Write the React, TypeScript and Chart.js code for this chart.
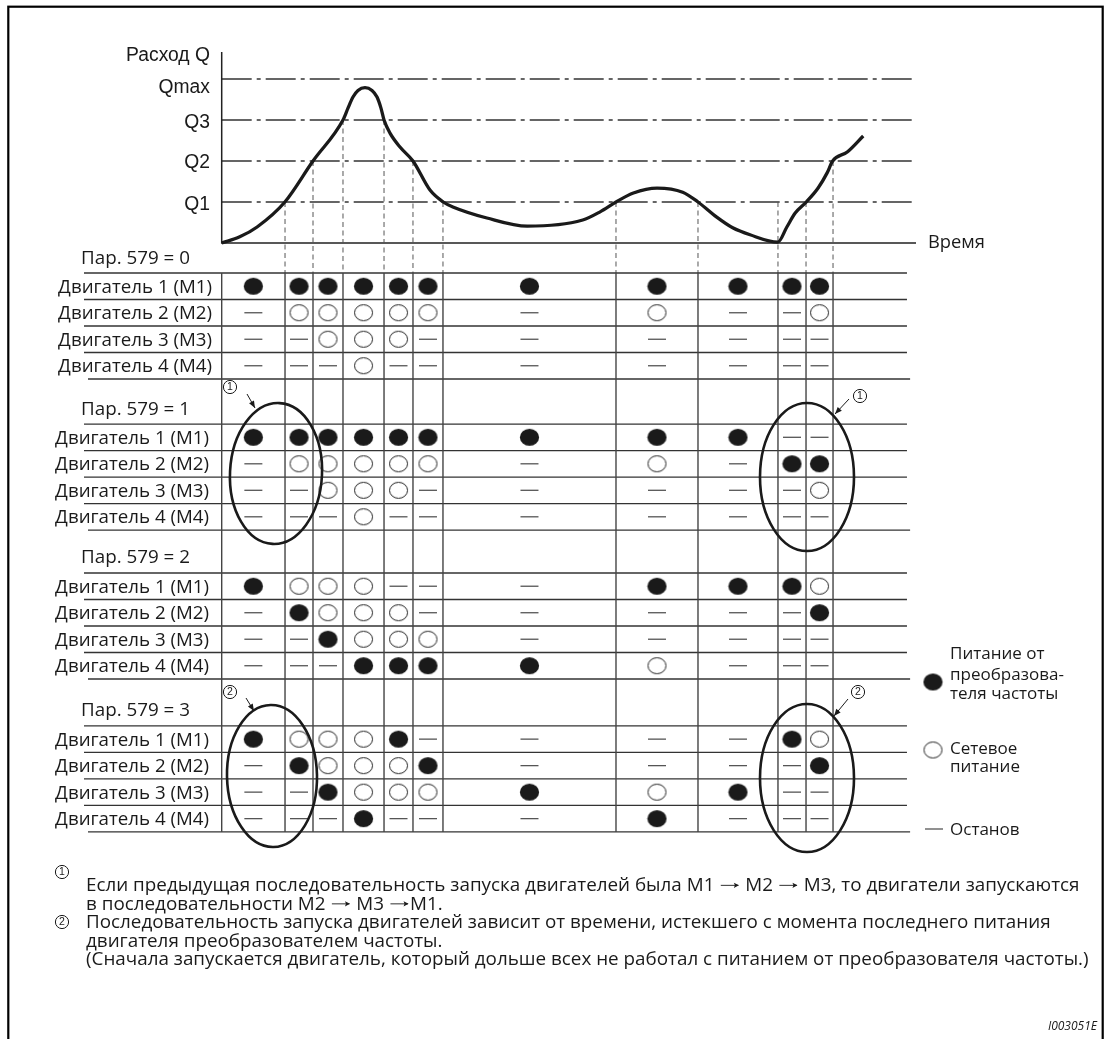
import React, { useEffect, useRef } from "react";
import { Chart, registerables } from "chart.js";

Chart.register(...registerables);

// ---------------- data ----------------
// flow curve: time along the time axis (0..100), flow in Q levels (Q1=1, Q2=2, Q3=3, Qmax=4)
const flowTime = [0, 2.6, 5.1, 9.1, 13.15, 17.47, 18.19, 18.91, 19.63, 20.64, 21.65, 22.37, 22.94, 23.38, 24.24, 25.68, 27.55, 30.0, 31.9, 33.3, 38.2, 44.0, 52.0, 54.5, 56.8, 59.3, 62.7, 66.4, 68.6, 71.3, 73.6, 76.1, 80.1, 81.4, 82.6, 84.2, 85.9, 87.2, 88.0, 90.1, 92.4];
const flowLevel = [0, 0.15, 0.39, 1.0, 2.0, 3.0, 3.29, 3.56, 3.72, 3.79, 3.72, 3.56, 3.29, 3.0, 2.68, 2.34, 2.0, 1.29, 1.0, 0.88, 0.61, 0.41, 0.56, 0.76, 1.0, 1.22, 1.34, 1.24, 1.0, 0.63, 0.37, 0.2, 0.02, 0.39, 0.73, 1.0, 1.34, 1.71, 2.0, 2.22, 2.61];

const levelValues = [1, 2, 3, 4];
const levelLabels = ["Q1", "Q2", "Q3", "Qmax"];
const axisTitleY = "Расход Q";
const axisTitleX = "Время";

// switching instants (column boundaries of the table) and level from which the drop line starts
const switchTimes = [9.12, 13.15, 17.47, 23.38, 27.55, 31.87, 56.79, 68.6, 80.12, 84.16, 88.05];
const switchFromLevel = [1, 2, 3, 3, 2, 1, 1, 1, 1, 1, 2];
const tableEndTime = 98.7;

const paramTitles = ["Пар. 579 = 0", "Пар. 579 = 1", "Пар. 579 = 2", "Пар. 579 = 3"];
const motorNames = ["Двигатель 1 (M1)", "Двигатель 2 (M2)", "Двигатель 3 (M3)", "Двигатель 4 (M4)"];

// F = inverter supply (filled), O = mains supply (open), - = stop
const states579_0 = ["FFFFFFFFFFF", "-OOOOO-O--O", "--OOO------", "---O-------"];
const states579_1 = ["FFFFFFFFF--", "-OOOOO-O-FF", "--OOO-----O", "---O-------"];
const states579_2 = ["FOOO---FFFO", "-FOOO-----F", "--FOOO-----", "---FFFFO---"];
const states579_3 = ["FOOOF----FO", "-FOOOF----F", "--FOOOFOF--", "---F---F---"];
const allStates = [states579_0, states579_1, states579_2, states579_3];

const legendInverter = ["Питание от", "преобразова-", "теля частоты"];
const legendMains = ["Сетевое", "питание"];
const legendStop = "Останов";
const notes = [
  "Если предыдущая последовательность запуска двигателей была M1 → M2 → M3, то двигатели запускаются",
  "в последовательности M2 → M3 →M1.",
  "Последовательность запуска двигателей зависит от времени, истекшего с момента последнего питания",
  "двигателя преобразователем частоты.",
  "(Сначала запускается двигатель, который дольше всех не работал с питанием от преобразователя частоты.)",
];
const figureId = "I003051E";

// ---------------- layout ----------------
const W = 1105;
const H = 1039;
const AXIS_LEFT_PX = 221.7;
const AXIS_RIGHT_PX = 916;
const T_PX = (AXIS_RIGHT_PX - AXIS_LEFT_PX) / 100;
const BASE_PX = 243;
const Q_PX = 41;
const TABLE_TOP_PX = 273;
const ROW_PX = 26.5;
const SECTION_ROW = [0, 5.7, 11.32, 17.09];

const X_MIN = -AXIS_LEFT_PX / T_PX;
const X_MAX = (W - AXIS_LEFT_PX) / T_PX;
const Q_MAX = BASE_PX / Q_PX;
const Q_MIN = -(H - BASE_PX) / Q_PX;
const R_MIN = -TABLE_TOP_PX / ROW_PX;
const R_MAX = (H - TABLE_TOP_PX) / ROW_PX;

const SANS = '"Open Sans", "Noto Sans", sans-serif';
const ARIAL = '"Liberation Sans", Arial, sans-serif';
const INK = "#1a1a1a";

function makeSymbol(filled: boolean): HTMLCanvasElement {
  const c = document.createElement("canvas");
  c.width = 21;
  c.height = 19;
  const g = c.getContext("2d")!;
  g.beginPath();
  if (filled) {
    g.ellipse(10.5, 9.5, 9.6, 8.6, 0, 0, Math.PI * 2);
    g.fillStyle = INK;
    g.fill();
  } else {
    g.ellipse(10.5, 9.5, 9, 8, 0, 0, Math.PI * 2);
    g.fillStyle = "#fff";
    g.fill();
    g.lineWidth = 1;
    g.strokeStyle = "#222";
    g.stroke();
  }
  return c;
}

function cellPoints(kind: string) {
  const bounds = [0, ...switchTimes];
  const pts: { x: number; y: number }[] = [];
  allStates.forEach((sec, s) =>
    sec.forEach((row, m) =>
      row.split("").forEach((ch, c) => {
        if (ch === kind) pts.push({ x: (bounds[c] + bounds[c + 1]) / 2, y: SECTION_ROW[s] + m + 0.5 });
      })
    )
  );
  return pts;
}

function fit(ctx: CanvasRenderingContext2D, text: string, family: string, target: number, style = "") {
  ctx.font = `${style} 100px ${family}`;
  return (100 * target) / ctx.measureText(text).width;
}

// text with long thin arrows (drawn as strokes) in place of "→"
const ARROW_EM = 1.12;
function drawMixed(ctx: CanvasRenderingContext2D, text: string, x: number, y: number, size: number) {
  const parts = text.split("→");
  let cx = x;
  ctx.textAlign = "left";
  ctx.font = `${size}px ${SANS}`;
  parts.forEach((p, i) => {
    ctx.fillText(p, cx, y);
    cx += ctx.measureText(p).width;
    if (i < parts.length - 1) {
      const aw = size * ARROW_EM;
      const ay = y - size * 0.3;
      ctx.save();
      ctx.strokeStyle = INK;
      ctx.lineWidth = 0.9;
      ctx.beginPath();
      ctx.moveTo(cx + 1.5, ay);
      ctx.lineTo(cx + aw - 2, ay);
      ctx.stroke();
      ctx.beginPath();
      ctx.moveTo(cx + aw - 1.5, ay);
      ctx.lineTo(cx + aw - 6.5, ay - 2.6);
      ctx.lineTo(cx + aw - 5.5, ay);
      ctx.lineTo(cx + aw - 6.5, ay + 2.6);
      ctx.closePath();
      ctx.fillStyle = INK;
      ctx.fill();
      ctx.restore();
      cx += aw;
    }
  });
}

function circled(ctx: CanvasRenderingContext2D, cx: number, cy: number, n: string) {
  ctx.save();
  ctx.beginPath();
  ctx.arc(cx, cy, 6.6, 0, Math.PI * 2);
  ctx.lineWidth = 1;
  ctx.strokeStyle = INK;
  ctx.stroke();
  ctx.fillStyle = INK;
  ctx.font = `10.5px ${ARIAL}`;
  ctx.textAlign = "center";
  ctx.textBaseline = "middle";
  ctx.fillText(n, cx, cy + 0.5);
  ctx.restore();
}

function arrow(ctx: CanvasRenderingContext2D, x1: number, y1: number, x2: number, y2: number) {
  ctx.save();
  ctx.strokeStyle = INK;
  ctx.fillStyle = INK;
  ctx.lineWidth = 1;
  ctx.beginPath();
  ctx.moveTo(x1, y1);
  ctx.lineTo(x2, y2);
  ctx.stroke();
  const a = Math.atan2(y2 - y1, x2 - x1);
  const L = 7, w = 2.8;
  ctx.beginPath();
  ctx.moveTo(x2, y2);
  ctx.lineTo(x2 - L * Math.cos(a) + w * Math.sin(a), y2 - L * Math.sin(a) - w * Math.cos(a));
  ctx.lineTo(x2 - L * Math.cos(a) - w * Math.sin(a), y2 - L * Math.sin(a) + w * Math.cos(a));
  ctx.closePath();
  ctx.fill();
  ctx.restore();
}

function ellipse(ctx: CanvasRenderingContext2D, cx: number, cy: number, rx: number, ry: number, rot: number) {
  ctx.save();
  ctx.beginPath();
  ctx.ellipse(cx, cy, rx, ry, rot, 0, Math.PI * 2);
  ctx.lineWidth = 2.6;
  ctx.strokeStyle = INK;
  ctx.stroke();
  ctx.restore();
}

export default function App() {
  const ref = useRef<HTMLCanvasElement>(null);

  useEffect(() => {
    document.body.style.margin = "0";
    const canvas = ref.current!;
    const filledImg = makeSymbol(true);
    const openImg = makeSymbol(false);

    const diagram = {
      id: "diagram",
      beforeDraw(chart: any) {
        const ctx = chart.ctx as CanvasRenderingContext2D;
        ctx.save();
        ctx.fillStyle = "#fff";
        ctx.fillRect(0, 0, W, H);
        ctx.restore();
      },
      beforeDatasetsDraw(chart: any) {
        const ctx = chart.ctx as CanvasRenderingContext2D;
        const X = (v: number) => chart.scales.x.getPixelForValue(v);
        const Q = (v: number) => chart.scales.y.getPixelForValue(v);
        const R = (v: number) => chart.scales.yr.getPixelForValue(v);
        ctx.save();

        // frame
        ctx.strokeStyle = "#000";
        ctx.lineWidth = 2.2;
        ctx.strokeRect(8.3, 6.7, 1094.4, 1100);

        // level lines (dash-dot)
        ctx.strokeStyle = "#333";
        ctx.lineWidth = 1.3;
        ctx.setLineDash([30, 5, 4, 5]);
        levelValues.forEach((lv) => {
          ctx.beginPath();
          ctx.moveTo(X(0), Q(lv));
          ctx.lineTo(X(100), Q(lv));
          ctx.stroke();
        });
        ctx.setLineDash([]);

        // axes
        ctx.strokeStyle = "#222";
        ctx.lineWidth = 1.5;
        ctx.beginPath();
        ctx.moveTo(X(0), Q(4.66));
        ctx.lineTo(X(0), Q(0));
        ctx.lineTo(X(100), Q(0));
        ctx.stroke();

        // drop lines
        ctx.strokeStyle = "#555";
        ctx.lineWidth = 1;
        ctx.setLineDash([5, 3.5]);
        switchTimes.forEach((t, i) => {
          ctx.beginPath();
          ctx.moveTo(X(t), Q(switchFromLevel[i]));
          ctx.lineTo(X(t), R(0));
          ctx.stroke();
        });
        ctx.setLineDash([]);

        // table horizontal lines
        ctx.strokeStyle = "#333";
        ctx.lineWidth = 1.3;
        SECTION_ROW.forEach((s0) => {
          for (let k = 0; k <= 4; k++) {
            ctx.beginPath();
            ctx.moveTo(k === 4 ? 88 : 84, R(s0 + k));
            ctx.lineTo(k === 4 ? X(tableEndTime + 0.45) : X(tableEndTime), R(s0 + k));
            ctx.stroke();
          }
        });
        // table vertical lines
        ctx.strokeStyle = "#444";
        ctx.lineWidth = 1.4;
        [0, ...switchTimes].forEach((t) => {
          ctx.beginPath();
          ctx.moveTo(X(t), R(0));
          ctx.lineTo(X(t), R(SECTION_ROW[3] + 4));
          ctx.stroke();
        });

        // texts
        ctx.fillStyle = INK;
        const qSize = fit(ctx, axisTitleY, ARIAL, 84);
        ctx.font = `${qSize}px ${ARIAL}`;
        ctx.textAlign = "right";
        ctx.textBaseline = "alphabetic";
        ctx.fillText(axisTitleY, 210, Q(4.66) + 9.5);
        const qOff = [8, 7, 8, 14];
        levelValues.forEach((lv, i) => ctx.fillText(levelLabels[i], 210, Q(lv) + qOff[i]));

        const tSize = fit(ctx, axisTitleX, SANS, 57);
        ctx.font = `${tSize}px ${SANS}`;
        ctx.textAlign = "left";
        ctx.fillText(axisTitleX, X(100) + 12, Q(0) + 4.5);

        const hSize = fit(ctx, paramTitles[0], SANS, 109);
        const lSize = fit(ctx, motorNames[0], SANS, 154);
        SECTION_ROW.forEach((s0, s) => {
          ctx.font = `${hSize}px ${SANS}`;
          ctx.textAlign = "left";
          ctx.fillText(paramTitles[s], 81, R(s0) - 9.5);
          ctx.font = `${lSize}px ${SANS}`;
          ctx.textAlign = "right";
          motorNames.forEach((nm, m) => {
            ctx.fillText(nm, s === 0 ? 212 : 209, R(s0 + m + 0.5) + lSize * 0.357);
          });
        });
        ctx.restore();
      },
      afterDatasetsDraw(chart: any) {
        const ctx = chart.ctx as CanvasRenderingContext2D;
        ctx.save();
        // highlight ellipses and notes markers
        ellipse(ctx, 276, 473.5, 46, 70.5, 0.05);
        ellipse(ctx, 807, 477, 47, 74, 0);
        ellipse(ctx, 272, 776, 45, 71, -0.02);
        ellipse(ctx, 807, 778, 47, 74, 0);
        circled(ctx, 230, 387, "1");
        arrow(ctx, 247, 394, 255, 408);
        circled(ctx, 860, 396, "1");
        arrow(ctx, 849, 399, 835, 414);
        circled(ctx, 230, 692, "2");
        arrow(ctx, 246, 698, 254, 711);
        circled(ctx, 858, 692, "2");
        arrow(ctx, 848, 699, 834, 716);

        // legend
        ctx.drawImage(filledImg, 933 - 10.5, 682 - 9.5);
        ctx.drawImage(openImg, 933 - 10.5, 750 - 9.5);
        ctx.strokeStyle = "#555";
        ctx.lineWidth = 1.3;
        ctx.beginPath();
        ctx.moveTo(925, 829);
        ctx.lineTo(943, 829);
        ctx.stroke();
        ctx.fillStyle = INK;
        const lgSize = fit(ctx, legendInverter[1], SANS, 114);
        ctx.font = `${lgSize}px ${SANS}`;
        ctx.textAlign = "left";
        ctx.textBaseline = "alphabetic";
        const invBase = [659, 680, 698.5];
        legendInverter.forEach((t, i) => ctx.fillText(t, 950, invBase[i]));
        const mainsBase = [753.5, 772];
        legendMains.forEach((t, i) => ctx.fillText(t, 950, mainsBase[i]));
        ctx.fillText(legendStop, 950, 835);

        // footnotes
        circled(ctx, 62, 872, "1");
        circled(ctx, 62, 922, "2");
        const nSize = fit(ctx, notes[4], SANS, 1003);
        const noteBase = [891, 909.5, 928, 946.5, 965];
        notes.forEach((t, i) => drawMixed(ctx, t, 86, noteBase[i], nSize));

        ctx.font = `italic 12px ${SANS}`;
        ctx.textAlign = "right";
        ctx.fillText(figureId, 1097, 1030);
        ctx.restore();
      },
    };

    const chart = new Chart(canvas, {
      type: "scatter",
      data: {
        datasets: [
          {
            label: "Расход",
            data: flowTime.map((t, i) => ({ x: t, y: flowLevel[i] })),
            showLine: true,
            borderColor: INK,
            borderWidth: 3.3,
            pointRadius: 0,
            cubicInterpolationMode: "monotone",
            xAxisID: "x",
            yAxisID: "y",
            clip: false,
          } as any,
          {
            label: "Питание от преобразователя частоты",
            data: cellPoints("F"),
            pointStyle: filledImg,
            pointRadius: 10,
            xAxisID: "x",
            yAxisID: "yr",
          } as any,
          {
            label: "Сетевое питание",
            data: cellPoints("O"),
            pointStyle: openImg,
            pointRadius: 10,
            xAxisID: "x",
            yAxisID: "yr",
          } as any,
          {
            label: "Останов",
            data: cellPoints("-"),
            pointStyle: "line",
            pointRadius: 9,
            borderColor: "#555",
            backgroundColor: "#555",
            borderWidth: 1.3,
            xAxisID: "x",
            yAxisID: "yr",
          } as any,
        ],
      },
      options: {
        animation: false,
        responsive: false,
        maintainAspectRatio: false,
        devicePixelRatio: 1,
        events: [],
        layout: { padding: 0, autoPadding: false },
        plugins: { legend: { display: false }, tooltip: { enabled: false }, title: { display: false } },
        scales: {
          x: { type: "linear", display: false, min: X_MIN, max: X_MAX },
          y: { type: "linear", display: false, min: Q_MIN, max: Q_MAX },
          yr: { type: "linear", display: false, reverse: true, min: R_MIN, max: R_MAX },
        },
      },
      plugins: [diagram],
    } as any);

    return () => chart.destroy();
  }, []);

  return (
    <div style={{ width: W, height: H, overflow: "hidden", background: "#fff" }}>
      <canvas ref={ref} width={W} height={H} style={{ display: "block", width: W, height: H }} />
    </div>
  );
}
